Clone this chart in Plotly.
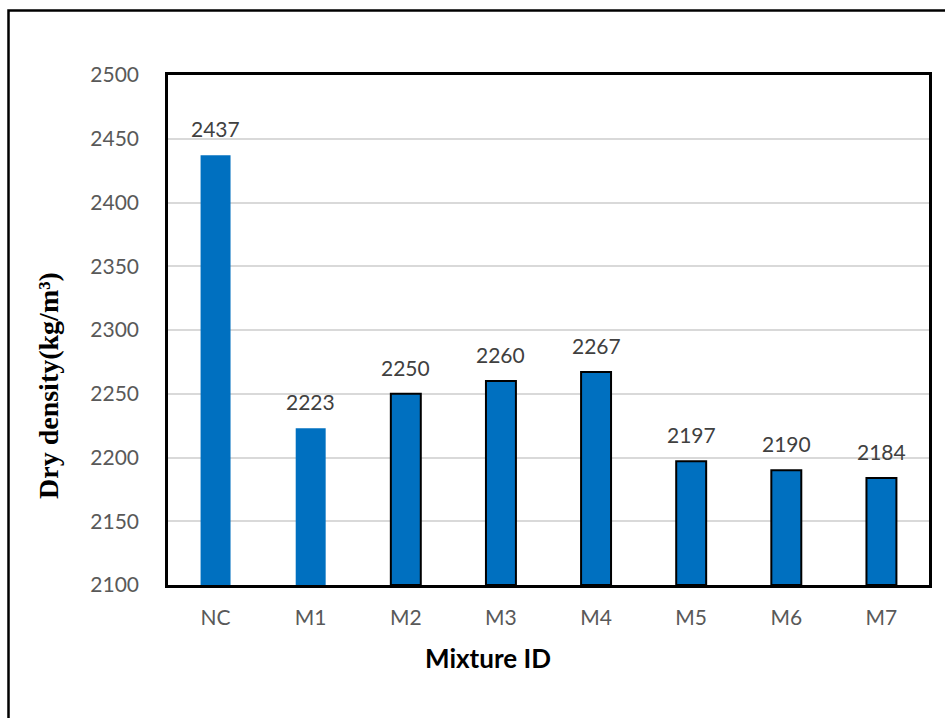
import plotly.graph_objects as go

# Dry density of each mixture (kg/m3)
mixtures = ["NC", "M1", "M2", "M3", "M4", "M5", "M6", "M7"]
dry_density = [2437, 2223, 2250, 2260, 2267, 2197, 2190, 2184]
# bars drawn with a black outline (M2 to M7)
outlined = [False, False, True, True, True, True, True, True]

y_ticks = [2100, 2150, 2200, 2250, 2300, 2350, 2400, 2450, 2500]

BAR_BLUE = "#0070C0"
SANS = "Lato, 'Open Sans', sans-serif"
TICK_FONT = dict(family=SANS, size=21, color="#595959")

fig = go.Figure()
fig.add_trace(go.Bar(
    x=mixtures,
    y=[v - 2100 for v in dry_density],
    base=2100,
    marker=dict(
        color=BAR_BLUE,
        line=dict(
            color=["black" if o else BAR_BLUE for o in outlined],
            width=[2 if o else 0 for o in outlined],
        ),
    ),
    hoverinfo="skip",
))

# value labels above bars
for m, v in zip(mixtures, dry_density):
    fig.add_annotation(
        x=m, y=v, text=str(v), showarrow=False,
        yanchor="bottom", yshift=12,
        font=dict(family=SANS, size=21, color="#404040"),
    )

# plot-area geometry in pixels
L, R, T, B = 168, 929, 75, 585
pw, ph = R - L, B - T

# y-axis title, set slightly below the middle of the plot area
fig.add_annotation(
    xref="paper", yref="paper",
    x=(48 - L) / pw, y=(B - 386) / ph,
    text="<b>Dry density(kg/m³)</b>", textangle=-90, showarrow=False,
    xanchor="center", yanchor="middle",
    font=dict(family="'Liberation Serif', 'Times New Roman', serif", size=28, color="black"),
)

# x-axis title, a little left of the plot-area centre
fig.add_annotation(
    xref="paper", yref="paper",
    x=(488 - L) / pw, y=(B - 658) / ph,
    text="<b>Mixture ID</b>", showarrow=False,
    xanchor="center", yanchor="middle",
    font=dict(family=SANS, size=26, color="black"),
)

# outer frame around the whole figure
fig.add_shape(
    type="rect", xref="paper", yref="paper",
    x0=(8.5 - L) / pw, x1=(960 - L) / pw,
    y0=(B - 740) / ph, y1=(B - 10.5) / ph,
    line=dict(color="black", width=2.5), fillcolor="rgba(0,0,0,0)",
    layer="above",
)

fig.update_layout(
    width=945, height=718,
    margin=dict(l=L, r=945 - R, t=T, b=718 - B),
    paper_bgcolor="white", plot_bgcolor="white",
    bargap=0.685,
    showlegend=False,
    xaxis=dict(
        showline=True, linecolor="black", linewidth=2.5, mirror=True,
        showgrid=False, ticks="", tickfont=TICK_FONT,
        ticklabelstandoff=12,
    ),
    yaxis=dict(
        range=[2100, 2500], tickvals=y_ticks,
        showline=True, linecolor="black", linewidth=2.5, mirror=True,
        showgrid=True, gridcolor="#D9D9D9", gridwidth=1.5,
        zeroline=False, ticks="", tickfont=TICK_FONT,
        ticklabelstandoff=22,
    ),
)

fig.write_html("out.html")
